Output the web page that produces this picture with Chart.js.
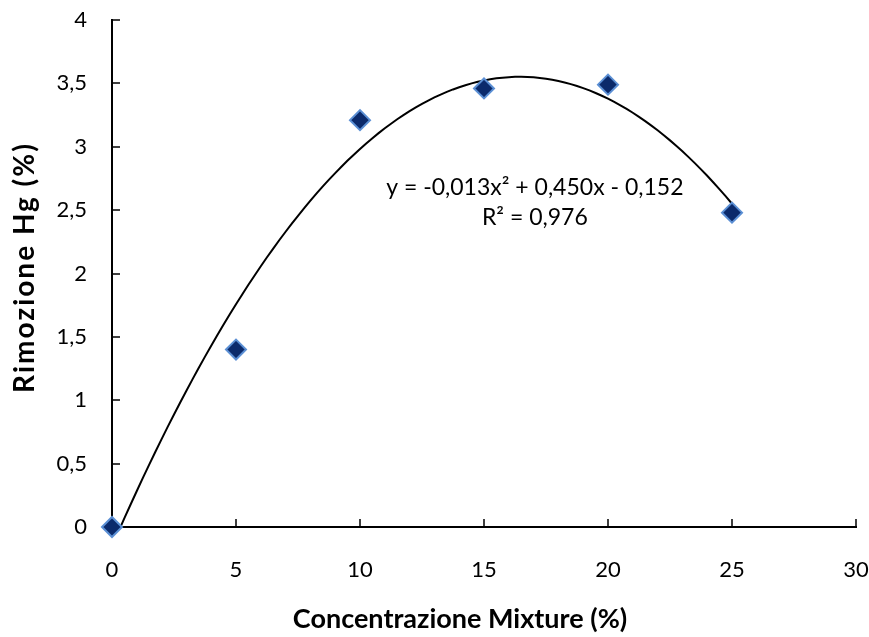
<!DOCTYPE html>
<html>
<head>
<meta charset="utf-8">
<script src="https://cdn.jsdelivr.net/npm/chart.js@4.4.0/dist/chart.umd.min.js"></script>
<style>
html, body { margin: 0; padding: 0; background: #fff; }
</style>
</head>
<body>
<canvas id="chart" width="869" height="637"></canvas>
<script>
// data
const concentrations = [0, 5, 10, 15, 20, 25];
const removals = [0, 1.4, 3.21, 3.46, 3.49, 2.48];
const xTickValues = [0, 5, 10, 15, 20, 25, 30];
const yTickValues = [0, 0.5, 1, 1.5, 2, 2.5, 3, 3.5, 4];
const equationLines = ['y = -0,013x² + 0,450x - 0,152', 'R² = 0,976'];
const xTitle = 'Concentrazione Mixture (%)';
const yTitle = 'Rimozione Hg (%)';

const FONT = 'Lato, "Open Sans", sans-serif';

// least squares 2nd order fit (Excel polynomial trendline)
function quadFit(xs, ys) {
    let s = [0, 0, 0, 0, 0], t = [0, 0, 0];
    for (let i = 0; i < xs.length; i++) {
        for (let k = 0; k < 5; k++) s[k] += Math.pow(xs[i], k);
        for (let k = 0; k < 3; k++) t[k] += ys[i] * Math.pow(xs[i], k);
    }
    // unknowns: c, b, a
    const m = [
        [s[0], s[1], s[2], t[0]],
        [s[1], s[2], s[3], t[1]],
        [s[2], s[3], s[4], t[2]]
    ];
    for (let i = 0; i < 3; i++) {
        for (let j = i + 1; j < 3; j++) {
            const f = m[j][i] / m[i][i];
            for (let k = i; k < 4; k++) m[j][k] -= f * m[i][k];
        }
    }
    const r = [0, 0, 0];
    for (let i = 2; i >= 0; i--) {
        let v = m[i][3];
        for (let k = i + 1; k < 3; k++) v -= m[i][k] * r[k];
        r[i] = v / m[i][i];
    }
    return r;
}

const coef = quadFit(concentrations, removals);
const trend = [];
for (let x = 0; x <= 25.0001; x += 0.25) {
    trend.push({ x: x, y: coef[0] + coef[1] * x + coef[2] * x * x });
}

const innerTicks = {
    id: 'innerTicks',
    afterDraw(chart) {
        const c = chart.ctx;
        const xs = chart.scales.x, ys = chart.scales.y;
        const area = chart.chartArea;
        c.save();
        c.strokeStyle = '#000';
        c.lineWidth = 1.5;
        c.beginPath();
        xTickValues.forEach(v => {
            if (v === 0) return;
            const px = Math.round(xs.getPixelForValue(v));
            c.moveTo(px, area.bottom);
            c.lineTo(px, area.bottom - 8);
        });
        yTickValues.forEach(v => {
            if (v === 0) return;
            const py = Math.round(ys.getPixelForValue(v));
            c.moveTo(area.left, py);
            c.lineTo(area.left + 8, py);
        });
        c.stroke();
        c.restore();
    }
};

const labels = {
    id: 'labels',
    afterDraw(chart) {
        const c = chart.ctx;
        const xs = chart.scales.x, ys = chart.scales.y;
        const area = chart.chartArea;
        c.save();
        c.fillStyle = '#000';
        c.textAlign = 'center';
        c.textBaseline = 'alphabetic';
        c.font = '23px ' + FONT;
        const ex = xs.getPixelForValue(17.05);
        const ey = ys.getPixelForValue(2.62);
        c.fillText(equationLines[0], ex, ey);
        c.fillText(equationLines[1], ex, ey + 30);
        c.font = 'bold 27px ' + FONT;
        c.fillText(xTitle, 460, 628);
        // y title, rotated
        c.translate(34, (area.top + area.bottom) / 2 - 6);
        c.rotate(-Math.PI / 2);
        c.font = 'bold 28px ' + FONT;
        c.letterSpacing = '2px';
        c.fillText(yTitle, 0, 0);
        c.restore();
    }
};

new Chart(document.getElementById('chart'), {
    type: 'scatter',
    data: {
        datasets: [{
            type: 'scatter',
            data: concentrations.map((x, i) => ({ x: x, y: removals[i] })),
            pointStyle: 'rectRot',
            pointRadius: 10,
            pointHoverRadius: 10,
            backgroundColor: '#0b2a6b',
            borderColor: '#5b8fd4',
            borderWidth: 2,
            clip: false,
            order: 0
        }, {
            type: 'line',
            data: trend,
            borderColor: '#000',
            borderWidth: 2,
            pointRadius: 0,
            fill: false,
            tension: 0,
            order: 1
        }]
    },
    options: {
        responsive: false,
        animation: false,
        events: [],
        layout: { padding: { left: 0, right: 13, top: 20, bottom: 0 } },
        plugins: {
            legend: { display: false },
            tooltip: { enabled: false }
        },
        scales: {
            x: {
                type: 'linear',
                min: 0,
                max: 30,
                afterBuildTicks: s => { s.ticks = xTickValues.map(v => ({ value: v })); },
                afterFit: s => {
                    s.height = 110;
                    s.paddingLeft = 0; s.paddingRight = 0;
                },
                grid: { display: true, drawOnChartArea: false, drawTicks: false },
                border: { display: true, color: '#000', width: 2 },
                ticks: {
                    color: '#000',
                    padding: 30,
                    font: { family: FONT, size: 22 },
                    callback: v => String(v).replace('.', ',')
                }
            },
            y: {
                type: 'linear',
                min: 0,
                max: 4,
                afterBuildTicks: s => { s.ticks = yTickValues.map(v => ({ value: v })); },
                afterFit: s => {
                    s.width = 112;
                    s.paddingTop = 0; s.paddingBottom = 0;
                },
                grid: { display: true, drawOnChartArea: false, drawTicks: false },
                border: { display: true, color: '#000', width: 2 },
                ticks: {
                    color: '#000',
                    padding: 25,
                    font: { family: FONT, size: 22 },
                    callback: v => String(v).replace('.', ',')
                }
            }
        }
    },
    plugins: [innerTicks, labels]
});
</script>
</body>
</html>
